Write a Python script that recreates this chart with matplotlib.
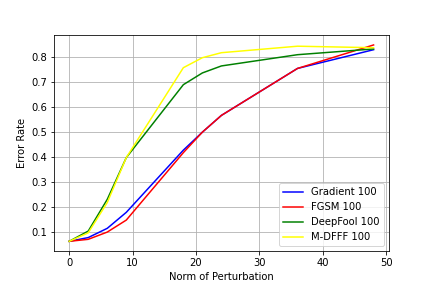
import matplotlib
matplotlib.use("Agg")
import matplotlib.pyplot as plt

# norm of perturbation
norms = [0, 3, 6, 9, 18, 21, 24, 36, 48]

gradient = [0.063, 0.078, 0.115, 0.179, 0.428, 0.50, 0.567, 0.755, 0.830]
fgsm = [0.063, 0.071, 0.100, 0.148, 0.418, 0.50, 0.567, 0.755, 0.849]
deepfool = [0.063, 0.104, 0.231, 0.398, 0.690, 0.737, 0.765, 0.810, 0.833]
mdfff = [0.063, 0.097, 0.218, 0.398, 0.758, 0.798, 0.818, 0.844, 0.838]

fig, ax = plt.subplots(figsize=(6, 4), dpi=72)
fig.subplots_adjust(top=0.878, bottom=0.128)

ax.plot(norms, gradient, color="blue", label="Gradient 100")
ax.plot(norms, fgsm, color="red", label="FGSM 100")
ax.plot(norms, deepfool, color="green", label="DeepFool 100")
ax.plot(norms, mdfff, color="yellow", label="M-DFFF 100")

ax.set_xlabel("Norm of Perturbation")
ax.set_ylabel("Error Rate")
ax.grid(True)
ax.legend(loc="lower right")

plt.savefig("out.png")
